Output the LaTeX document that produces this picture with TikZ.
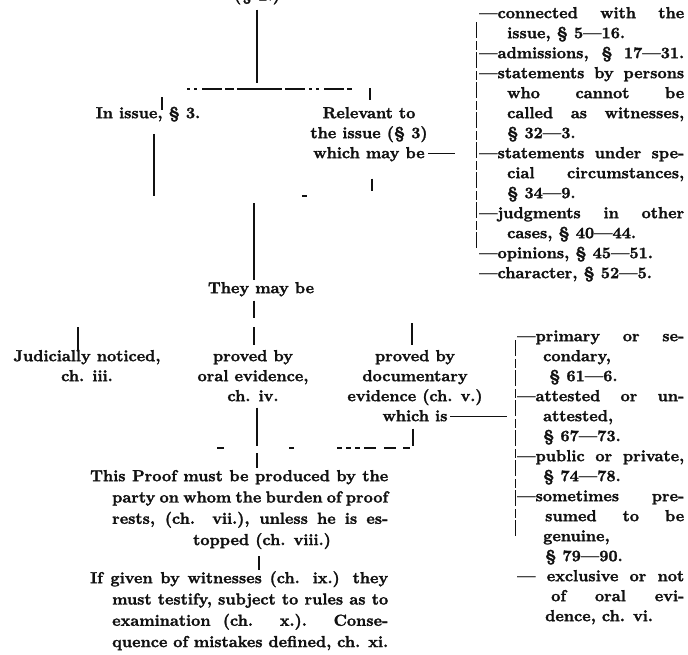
\documentclass[tikz,border=0pt]{standalone}
\usepackage{fontspec}
\usepackage{tikz}
\newfontfamily\chartfam{lmroman10-bold.otf}[FakeBold=1.6]
\definecolor{ink}{HTML}{111111}
\newcommand{\chartfont}{\chartfam\fontsize{16pt}{20pt}\selectfont}
\newcommand{\parafont}{\chartfam\fontsize{16pt}{21.3pt}\selectfont}
\newcommand{\justline}[2]{\makebox[#1][s]{#2}}
\newcommand{\topstrut}{\rule{0pt}{13pt}}
\tikzset{
  lab/.style={inner sep=0pt, text=ink, font=\chartfont, anchor=north},
  col/.style={lab, anchor=north west, align=left},
  para/.style={col, font=\parafont},
  tree/.style={draw=ink, line width=1.7pt},
  tick/.style={draw=ink, line width=1.3pt},
  bar/.style={draw=ink, line width=1.1pt, dash pattern=on 3pt off 4pt on 3pt off 5pt on 20pt off 3pt on 9pt off 3pt on 45pt off 3pt on 20pt off 4pt},
  sparsebar/.style={draw=ink, line width=1.1pt, dash pattern=on 7pt off 65pt on 5pt off 43pt on 5pt off 4pt on 5pt off 4pt on 5pt off 4pt on 12pt off 8pt on 12pt},
  brace/.style={draw=ink, line width=0.9pt, dash pattern=on 16pt off 3pt on 9pt off 2pt},
  rule/.style={draw=ink, line width=1.2pt},
}

\begin{document}
\begin{tikzpicture}[x=1pt,y=-1pt]
  \path[use as bounding box, fill=white] (0,0) rectangle (688,654);

  % head of the chart, cut by the page edge
  \node[lab, anchor=base] (sect) at (257,0.5) {(§ 2.)};
  \coordinate (barL) at (187,89);
  \coordinate (barR) at (352,89);
  \draw[tree] ([yshift=-5pt]sect.south) -- (257,83);
  \draw[bar] (barL) -- (barR);

  % first split
  \node[lab] (issue) at (148,105) {\topstrut In issue, § 3.};
  \node[lab, align=center] (rel) at (369,105) {\topstrut Relevant to\\the issue (§ 3)\\which may be};
  \draw[tick] ([shift={(14,-8)}]issue.north) -- ++(0,13);
  \draw[tree] ([shift={(6,12)}]issue.south) -- ++(0,62);
  \draw[tick] ([shift={(1,-17)}]rel.north) -- ++(0,12);
  \draw[tick] ([shift={(3,17)}]rel.south) -- ++(0,12);
  \coordinate (maystart) at (428,153.5);
  \coordinate (mayend) at (455,153.5);
  \draw[rule] (maystart) -- (mayend);
  \draw[tick] (302,196) -- (307,196);

  \node[col] (upcol) at (479,5) {%
    \topstrut\justline{205pt}{—connected with the}\\
    \hspace*{28pt}issue, § 5—16.\\
    \justline{205pt}{—admissions, § 17—31.}\\
    \justline{205pt}{—statements by persons}\\
    \hspace*{28pt}\justline{177pt}{who cannot be}\\
    \hspace*{28pt}\justline{177pt}{called as witnesses,}\\
    \hspace*{28pt}§ 32—3.\\
    \justline{205pt}{—statements under spe-}\\
    \hspace*{28pt}\justline{177pt}{cial circumstances,}\\
    \hspace*{28pt}§ 34—9.\\
    \justline{205pt}{—judgments in other}\\
    \hspace*{28pt}cases, § 40—44.\\
    —opinions, § 45—51.\\
    —character, § 52—5.};
  \draw[brace] ([shift={(-3,17)}]upcol.north west) -- ++(0,226);

  % second split
  \coordinate (spinetop) at (254,203);
  \node[lab, align=center] (they) at (261,280) {\topstrut They may be};
  \draw[tree] (spinetop) -- (spinetop |- they.north);
  \draw[tick] ([shift={(-7,4)}]they.south) -- ++(0,17);

  \node[lab, align=center] (judic) at (87,348) {\topstrut Judicially noticed,\\ch. iii.};
  \node[lab, align=center] (oral) at (253,348) {\topstrut proved by\\oral evidence,\\ch. iv.};
  \node[lab, align=center] (doc) at (415,348) {\topstrut proved by\\documentary\\evidence (ch. v.)\\which is};
  \draw[tick] ([shift={(-9,-21)}]judic.north) -- ++(0,23);
  \draw[tick] ([shift={(1,-21)}]oral.north) -- ++(0,18);
  \draw[tick] ([shift={(-3,-25)}]doc.north) -- ++(0,22);
  \coordinate (isstart) at (450,416.5);
  \coordinate (isend) at (507,416.5);
  \draw[rule] (isstart) -- (isend);

  \node[col] (lowcol) at (517,328) {%
    \topstrut\justline{167pt}{—primary or se-}\\
    \hspace*{26pt}condary,\\
    \hspace*{32pt}§ 61—6.\\
    \justline{167pt}{—attested or un-}\\
    \hspace*{26pt}attested,\\
    \hspace*{26pt}§ 67—73.\\
    \justline{167pt}{—public or private,}\\
    \hspace*{26pt}§ 74—78.\\
    \justline{167pt}{—sometimes pre-}\\
    \hspace*{28pt}\justline{139pt}{sumed to be}\\
    \hspace*{26pt}genuine,\\
    \hspace*{28pt}§ 79—90.\\
    \justline{167pt}{— exclusive or not}\\
    \hspace*{34pt}\justline{133pt}{of oral evi-}\\
    \hspace*{28pt}dence, ch. vi.};
  \draw[brace] ([shift={(-2,12)}]lowcol.north west) -- ++(0,197);

  % proof and witnesses
  \draw[tree] ([shift={(4,6)}]oral.south) -- ++(0,38);
  \draw[tick] ([shift={(-2,7)}]doc.south) -- ++(0,17);
  \draw[sparsebar] (217,448) -- (410,448);
  \coordinate (pj) at (257,453);
  \coordinate (gj) at (259,556);

  \node[para] (proof) at (90,468) {%
    \topstrut\justline{298pt}{This Proof must be produced by the}\\
    \hspace*{22pt}\justline{276pt}{party on whom the burden of proof}\\
    \hspace*{22pt}\justline{276pt}{rests, (ch. vii.), unless he is es-}\\
    \hspace*{103pt}topped (ch. viii.)};
  \node[para] (given) at (90,570) {%
    \topstrut\justline{298pt}{If given by witnesses (ch. ix.) they}\\
    \hspace*{22pt}\justline{276pt}{must testify, subject to rules as to}\\
    \hspace*{22pt}\justline{276pt}{examination (ch. x.). Conse-}\\
    \hspace*{22pt}\justline{276pt}{quence of mistakes defined, ch. xi.}};
  \draw[tree] (pj) -- (pj |- proof.north);
  \draw[tree] (gj) -- (gj |- given.north);
\end{tikzpicture}
\end{document}
